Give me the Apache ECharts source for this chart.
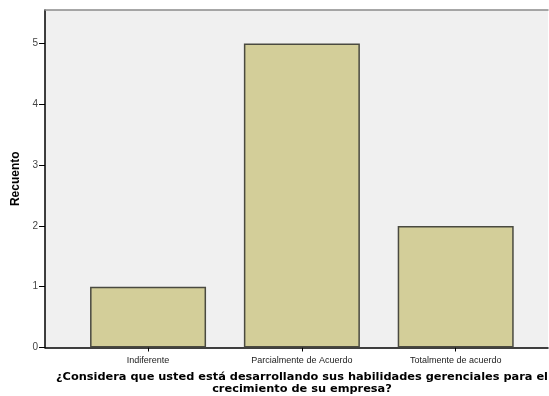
<!DOCTYPE html>
<html>
<head>
<meta charset="utf-8">
<script src="https://cdn.jsdelivr.net/npm/echarts@6/dist/echarts.min.js"></script>
<style>html,body{margin:0;padding:0;background:#fff}#c{width:549px;height:396px}</style>
</head>
<body>
<div id="c"></div>
<script>
const categories = ["Indiferente", "Parcialmente de Acuerdo", "Totalmente de acuerdo"];
const counts = [1, 5, 2];
const yTicks = [0, 1, 2, 3, 4, 5];
const xTitle = "¿Considera que usted está desarrollando sus habilidades gerenciales para el\ncrecimiento de su empresa?";
const yTitle = "Recuento";

const chart = echarts.init(document.getElementById('c'), null, {renderer: 'canvas'});
const catIdx = categories.map((c, i) => i);
chart.setOption({
  animation: false,
  backgroundColor: '#ffffff',
  grid: {
    left: 45, right: 1, top: 10, bottom: 48.5,
    outerBoundsMode: 'none', containLabel: false,
    show: true, backgroundColor: '#F0F0F0', borderWidth: 0
  },
  xAxis: [{
    type: 'value',
    min: -0.67, max: 2.60,
    splitLine: {show: false},
    axisLine: {show: true, onZero: false, lineStyle: {color: '#000', width: 1.5}},
    axisTick: {show: true, customValues: catIdx, length: 4, lineStyle: {color: '#000'}},
    axisLabel: {
      customValues: catIdx,
      formatter: v => categories[Math.round(v)] || '',
      fontFamily: 'Liberation Sans', fontSize: 9, color: '#222', margin: 9
    },
    name: xTitle,
    nameLocation: 'middle',
    nameGap: 24,
    nameTextStyle: {fontFamily: 'DejaVu Sans', fontWeight: 'bold', fontSize: 11.35, color: '#000', lineHeight: 12, align: 'center', verticalAlign: 'top', padding: [0, 0, 0, 11]}
  }, {
    type: 'value', position: 'top',
    min: -0.67, max: 2.60,
    splitLine: {show: false},
    axisLine: {show: true, onZero: false, lineStyle: {color: '#8a8a8a', width: 1.5}},
    axisTick: {show: false},
    axisLabel: {show: false}
  }],
  yAxis: {
    type: 'value',
    min: 0, max: 5.55,
    splitLine: {show: false},
    axisLine: {show: true, onZero: false, lineStyle: {color: '#000', width: 1.5}},
    axisTick: {show: true, customValues: yTicks, length: 6, lineStyle: {color: '#000'}},
    axisLabel: {customValues: yTicks, fontFamily: 'Liberation Sans', fontSize: 10, color: '#444', margin: 7},
    name: yTitle,
    nameLocation: 'middle',
    nameGap: 17,
    nameTextStyle: {fontFamily: 'Liberation Sans', fontWeight: 'bold', fontSize: 12, color: '#000'}
  },
  series: [{
    type: 'bar',
    xAxisIndex: 0,
    data: categories.map((c, i) => [i, counts[i]]),
    barWidth: 116,
    itemStyle: {color: '#D3CE99', borderColor: '#4a4a40', borderWidth: 1.5}
  }]
});
</script>
</body>
</html>
